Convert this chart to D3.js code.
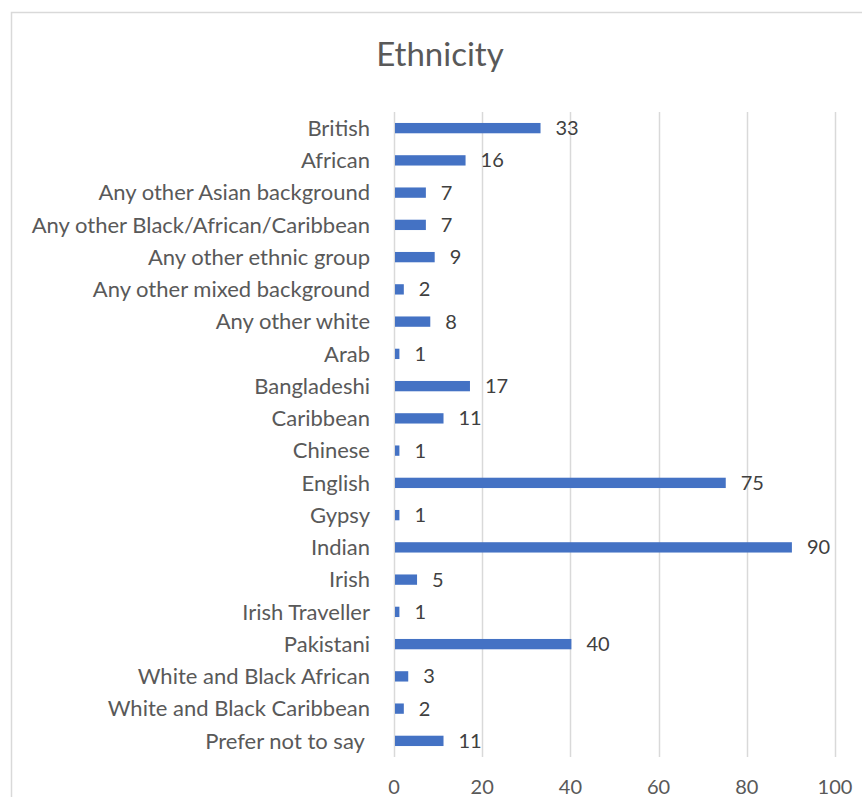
<!DOCTYPE html>
<html lang="en">
<head>
<meta charset="utf-8">
<title>Ethnicity</title>
<script src="https://d3js.org/d3.v7.min.js"></script>
<style>
  body { margin: 0; background: #fff; }
  svg { display: block; font-family: Lato, "Open Sans", sans-serif; }
  .cat { white-space: pre; }
</style>
</head>
<body>
<div id="chart"></div>
<script>
// data
var categories = ["British", "African", "Any other Asian background",
  "Any other Black/African/Caribbean", "Any other ethnic group",
  "Any other mixed background", "Any other white", "Arab", "Bangladeshi",
  "Caribbean", "Chinese", "English", "Gypsy", "Indian", "Irish",
  "Irish Traveller", "Pakistani", "White and Black African",
  "White and Black Caribbean", "Prefer not to say "];
var counts = [33, 16, 7, 7, 9, 2, 8, 1, 17, 11, 1, 75, 1, 90, 5, 1, 40, 3, 2, 11];
var ticks = [0, 20, 40, 60, 80, 100];

var W = 862, H = 797;
var svg = d3.select("#chart").append("svg")
  .attr("width", W).attr("height", H);

// chart frame (cropped at right/bottom)
svg.append("rect")
  .attr("x", 11.5).attr("y", 12.5)
  .attr("width", 1000).attr("height", 1000)
  .attr("fill", "none")
  .attr("stroke", "#d9d9d9")
  .attr("stroke-width", 1.5);

svg.append("text")
  .attr("x", 440).attr("y", 66)
  .attr("text-anchor", "middle")
  .attr("font-size", 33)
  .attr("fill", "#595959")
  .text("Ethnicity");

var x = d3.scaleLinear().domain([0, 100]).range([394, 835]);
var y = d3.scaleBand().domain(categories).range([112, 757]).paddingInner(0.68).paddingOuter(0.34);

// gridlines
svg.append("g").selectAll("line")
  .data(ticks)
  .join("line")
    .attr("x1", function(d) { return Math.round(x(d)) + 0.5; })
    .attr("x2", function(d) { return Math.round(x(d)) + 0.5; })
    .attr("y1", 112).attr("y2", 757)
    .attr("stroke", "#d9d9d9")
    .attr("stroke-width", 1.5);

// x tick labels
svg.append("g").selectAll("text")
  .data(ticks)
  .join("text")
    .attr("x", function(d) { return x(d); })
    .attr("y", 787)
    .attr("dy", "0.35em")
    .attr("text-anchor", "middle")
    .attr("font-size", 20)
    .attr("fill", "#595959")
    .text(function(d) { return d; });

// category labels
svg.append("g").selectAll("text")
  .data(categories)
  .join("text")
    .attr("class", "cat")
    .attr("x", 370)
    .attr("y", function(d) { return y(d) + y.bandwidth() / 2; })
    .attr("dy", "0.35em")
    .attr("text-anchor", "end")
    .attr("font-size", 22)
    .attr("fill", "#595959")
    .text(function(d) { return d; });

// bars
svg.append("g").selectAll("rect")
  .data(categories)
  .join("rect")
    .attr("x", x(0) + 1)
    .attr("y", function(d) { return y(d); })
    .attr("width", function(d, i) { return x(counts[i]) - x(0); })
    .attr("height", y.bandwidth())
    .attr("fill", "#4472c4");

// value labels
svg.append("g").selectAll("text")
  .data(categories)
  .join("text")
    .attr("x", function(d, i) { return x(counts[i]) + 16; })
    .attr("y", function(d) { return y(d) + y.bandwidth() / 2; })
    .attr("dy", "0.35em")
    .attr("font-size", 20)
    .attr("fill", "#404040")
    .text(function(d, i) { return counts[i]; });
</script>
</body>
</html>
